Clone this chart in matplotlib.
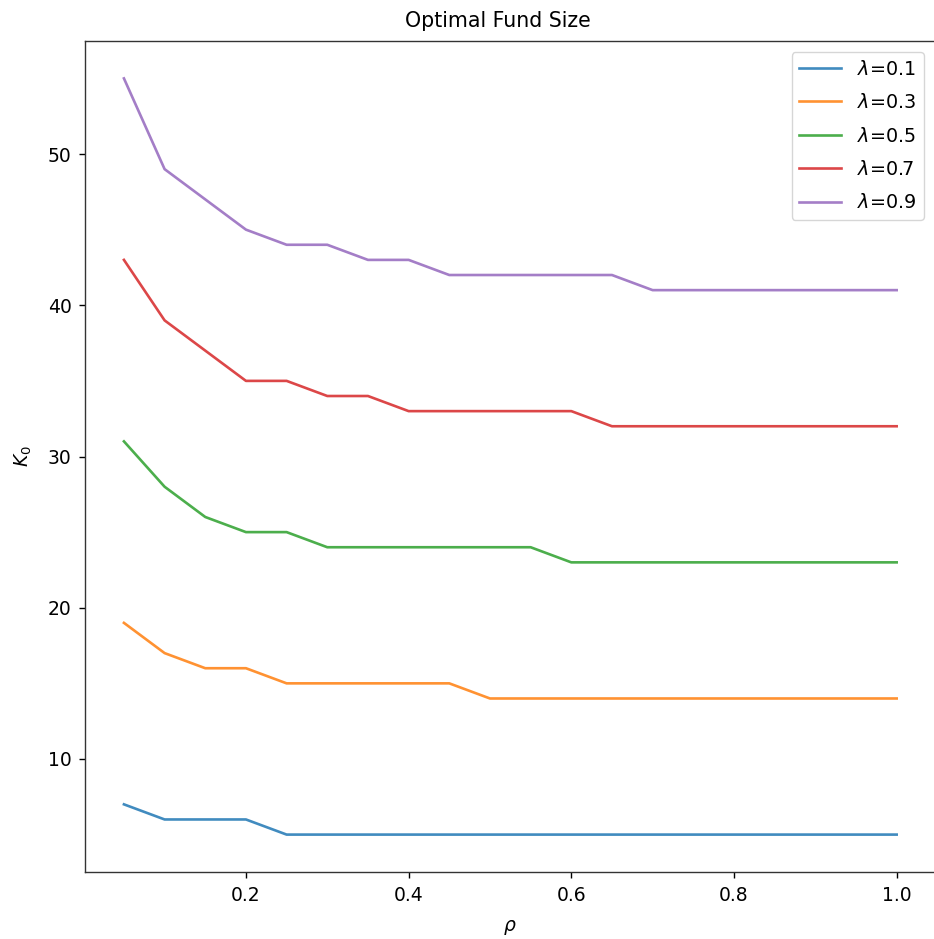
import matplotlib
matplotlib.use("Agg")
import matplotlib.pyplot as plt

rho = [0.05, 0.10, 0.15, 0.20, 0.25, 0.30, 0.35, 0.40, 0.45, 0.50,
       0.55, 0.60, 0.65, 0.70, 0.75, 0.80, 0.85, 0.90, 0.95, 1.00]

lambdas = [0.1, 0.3, 0.5, 0.7, 0.9]

k0_lam01 = [7, 6, 6, 6, 5, 5, 5, 5, 5, 5, 5, 5, 5, 5, 5, 5, 5, 5, 5, 5]
k0_lam03 = [19, 17, 16, 16, 15, 15, 15, 15, 15, 14, 14, 14, 14, 14, 14, 14, 14, 14, 14, 14]
k0_lam05 = [31, 28, 26, 25, 25, 24, 24, 24, 24, 24, 24, 23, 23, 23, 23, 23, 23, 23, 23, 23]
k0_lam07 = [43, 39, 37, 35, 35, 34, 34, 33, 33, 33, 33, 33, 32, 32, 32, 32, 32, 32, 32, 32]
k0_lam09 = [55, 49, 47, 45, 44, 44, 43, 43, 42, 42, 42, 42, 42, 41, 41, 41, 41, 41, 41, 41]

series = [k0_lam01, k0_lam03, k0_lam05, k0_lam07, k0_lam09]

plt.rcParams.update({
    "font.size": 13.5,
    "axes.linewidth": 1.0,
    "xtick.major.size": 4.3,
    "ytick.major.size": 4.3,
    "xtick.major.width": 1.0,
    "ytick.major.width": 1.0,
    "xtick.major.pad": 5.5,
    "ytick.major.pad": 5.5,
    "axes.edgecolor": "#333333",
})

W, H = 934, 939
fig = plt.figure(figsize=(W / 100, H / 100), dpi=100)
ax = fig.add_axes([85.3 / W, (H - 872.4) / H, 850 / W, 831.8 / H])

for lam, vals in zip(lambdas, series):
    ax.plot(rho, vals, lw=1.9, alpha=0.85, label=r"$\lambda$=" + f"{lam}")

ax.set_title("Optimal Fund Size", fontsize=14.8, x=0.4855, pad=10)
ax.set_xlabel(r"$\rho$", labelpad=9)
ax.set_ylabel(r"$K_0$", labelpad=10)
ax.legend(loc="upper right", fontsize=13.8, labelspacing=0.75, handlelength=2.2,
          borderaxespad=0.6)

fig.savefig("out.png", dpi=100)
